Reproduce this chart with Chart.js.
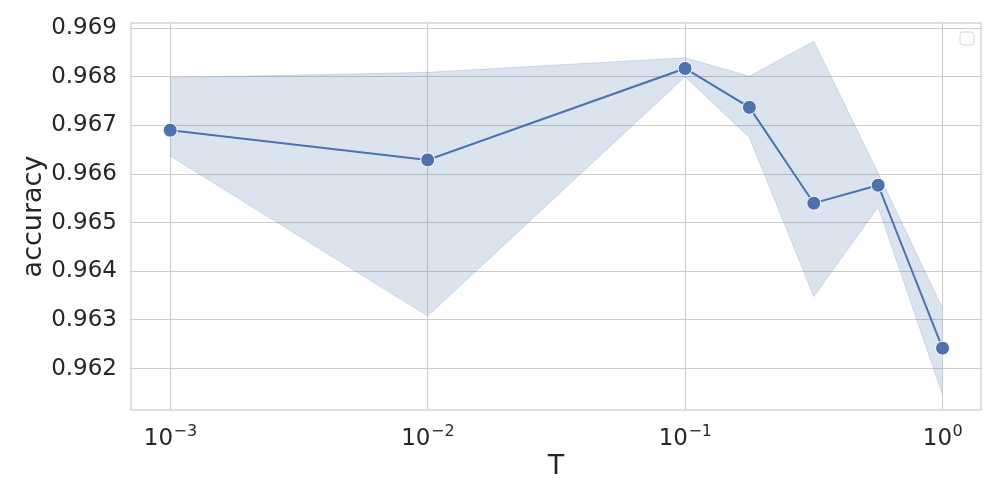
<!DOCTYPE html>
<html>
<head>
<meta charset="utf-8">
<script src="https://cdn.jsdelivr.net/npm/chart.js@4"></script>
<style>
  html, body { margin: 0; padding: 0; background: #fff; }
  #wrap { width: 1000px; height: 500px; }
</style>
</head>
<body>
<div id="wrap"><canvas id="chart_accuracy" width="1000" height="500"></canvas></div>
<script>
// values
var T_VALUES = [0.001, 0.01, 0.1, 0.1778, 0.3162, 0.5623, 1.0];
var ACC_MEAN = [0.96690, 0.96629, 0.96817, 0.96737, 0.96540, 0.96577, 0.96242];
var ACC_LOW  = [0.96637, 0.96308, 0.96800, 0.96675, 0.96348, 0.96532, 0.96146];
var ACC_HIGH = [0.96798, 0.96809, 0.96839, 0.96801, 0.96873, 0.96602, 0.96324];

var X_TICKS = [0.001, 0.01, 0.1, 1];
var X_TICK_BASE = '10';
var X_TICK_EXP = ['\u22123', '\u22122', '\u22121', '0'];
var Y_TICKS = [0.962, 0.963, 0.964, 0.965, 0.966, 0.967, 0.968, 0.969];

var BLUE = '#4c72b0';
var BAND = 'rgba(76, 114, 176, 0.2)';
var GRID = '#cccccc';
var TEXT = '#262626';
var FONT = 'DejaVu Sans';

function pts(ys) {
    return T_VALUES.map(function (t, i) { return { x: t, y: ys[i] }; });
}

// box round the plot, the empty legend frame, and 10^n tick labels
var framePlugin = {
    id: 'frame',
    afterDraw: function (chart) {
        var a = chart.chartArea, c = chart.ctx;
        c.save();
        c.strokeStyle = GRID;
        c.lineWidth = 1.25;
        c.strokeRect(a.left, a.top, a.right - a.left, a.bottom - a.top);

        // legend box
        var w = 14, h = 13, x = a.right - 21, y = a.top + 9, r = 3;
        c.fillStyle = 'rgba(255,255,255,0.8)';
        c.strokeStyle = '#d6d6d6';
        c.lineWidth = 1;
        c.beginPath();
        c.moveTo(x + r, y);
        c.arcTo(x + w, y, x + w, y + h, r);
        c.arcTo(x + w, y + h, x, y + h, r);
        c.arcTo(x, y + h, x, y, r);
        c.arcTo(x, y, x + w, y, r);
        c.closePath();
        c.fill();
        c.stroke();

        // x tick labels with superscript exponent
        var xs = chart.scales.x;
        c.fillStyle = TEXT;
        c.textBaseline = 'alphabetic';
        c.textAlign = 'left';
        X_TICKS.forEach(function (v, i) {
            var px = xs.getPixelForValue(v);
            c.font = '23px "' + FONT + '"';
            var bw = c.measureText(X_TICK_BASE).width;
            c.font = '16px "' + FONT + '"';
            var ew = c.measureText(X_TICK_EXP[i]).width;
            var left = px - (bw + ew) / 2;
            c.font = '23px "' + FONT + '"';
            c.fillText(X_TICK_BASE, left, a.bottom + 35);
            c.font = '16px "' + FONT + '"';
            c.fillText(X_TICK_EXP[i], left + bw + 0.5, a.bottom + 26);
        });
        c.restore();
    }
};

var ctx = document.getElementById('chart_accuracy').getContext('2d');
var chart = new Chart(ctx, {
    type: 'line',
    data: {
        datasets: [{
            // lower edge of the band
            data: pts(ACC_LOW),
            borderColor: BAND,
            borderWidth: 1,
            pointRadius: 0,
            fill: false,
            order: 2
        }, {
            // upper edge, filled down to the lower one
            data: pts(ACC_HIGH),
            borderColor: BAND,
            borderWidth: 1,
            backgroundColor: BAND,
            pointRadius: 0,
            fill: '-1',
            order: 1
        }, {
            data: pts(ACC_MEAN),
            borderColor: BLUE,
            borderWidth: 2,
            backgroundColor: BLUE,
            pointRadius: 7,
            pointBackgroundColor: BLUE,
            pointBorderColor: '#ffffff',
            pointBorderWidth: 1,
            fill: false,
            order: 0
        }]
    },
    plugins: [framePlugin],
    options: {
        responsive: false,
        animation: false,
        layout: { padding: { top: 23, right: 19, left: 0, bottom: 0 } },
        plugins: {
            legend: { display: false },
            tooltip: { enabled: false }
        },
        scales: {
            x: {
                type: 'logarithmic',
                min: 0.000704,
                max: 1.411,
                afterBuildTicks: function (scale) {
                    scale.ticks = X_TICKS.map(function (v) { return { value: v }; });
                },
                afterFit: function (scale) {
                    scale.height = 90;
                    scale.paddingLeft = 0;
                    scale.paddingRight = 0;
                },
                grid: { color: GRID, lineWidth: 1, drawTicks: false },
                border: { display: false },
                ticks: { display: false },
                title: {
                    display: true,
                    text: 'T',
                    color: TEXT,
                    font: { family: FONT, size: 27 },
                    padding: { top: 0, bottom: 17 }
                }
            },
            y: {
                type: 'linear',
                min: 0.961149,
                max: 0.969104,
                afterBuildTicks: function (scale) {
                    scale.ticks = Y_TICKS.map(function (v) { return { value: v }; });
                },
                afterFit: function (scale) {
                    scale.width = 131;
                    scale.paddingTop = 0;
                    scale.paddingBottom = 0;
                },
                grid: { color: GRID, lineWidth: 1, drawTicks: false },
                border: { display: false },
                ticks: {
                    color: TEXT,
                    padding: 14,
                    font: { family: FONT, size: 23 },
                    callback: function (value) { return value.toFixed(3); }
                },
                title: {
                    display: true,
                    text: 'accuracy',
                    color: TEXT,
                    font: { family: FONT, size: 27 },
                    padding: { top: 18, bottom: 0 }
                }
            }
        }
    }
});
</script>
</body>
</html>
